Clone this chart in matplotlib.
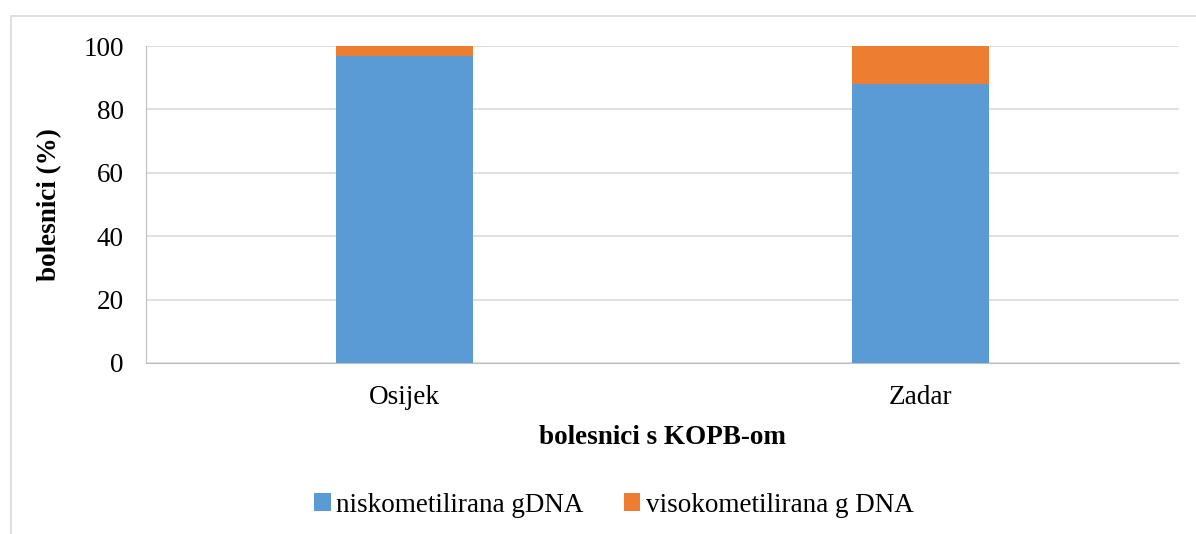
import matplotlib.pyplot as plt
from matplotlib.patches import Rectangle

cities = ['Osijek', 'Zadar']
niskometilirana = [97, 88]
visokometilirana = [3, 12]
series_names = ['niskometilirana gDNA', 'visokometilirana g DNA']

def main():
  plt.rcParams['font.family'] = ['Liberation Serif', 'DejaVu Serif']
  W, H = 1196, 534
  fs = 19.5
  fig = plt.figure(figsize=(W / 100, H / 100), dpi=100)

  # outer chart frame, cut off at right and bottom
  fig.patches.append(Rectangle((11 / W, -0.1), 1.2, (H - 16) / H + 0.1,
                               transform=fig.transFigure, fill=False,
                               edgecolor='#d9d9d9', linewidth=1.2))

  ax = fig.add_axes([146 / W, 1 - 363 / H, (1179 - 146) / W, (363 - 46) / H])
  x = range(len(cities))
  ax.bar(x, niskometilirana, width=0.265, color='#5b9bd5', label=series_names[0], zorder=3)
  ax.bar(x, visokometilirana, width=0.265, bottom=niskometilirana,
         color='#ed7d31', label=series_names[1], zorder=3)

  ax.set_xlim(-0.5, 1.5)
  ax.set_ylim(0, 100)
  ax.set_yticks([0, 20, 40, 60, 80, 100])
  ax.set_xticks(list(x))
  ax.set_xticklabels(cities)
  ax.tick_params(axis='both', labelsize=fs, length=0, colors='black')
  ax.tick_params(axis='y', pad=16)
  ax.tick_params(axis='x', pad=16)
  ax.grid(axis='y', color='#d9d9d9', linewidth=1.2, zorder=0)
  for s in ['top', 'right']:
    ax.spines[s].set_visible(False)
  for s in ['left', 'bottom']:
    ax.spines[s].set_color('#bfbfbf')

  ax.set_ylabel('bolesnici (%)', fontsize=fs, fontweight='bold', labelpad=15)
  ax.set_xlabel('bolesnici s KOPB-om', fontsize=fs, fontweight='bold', labelpad=11)

  fig.legend(loc='center', bbox_to_anchor=(614 / W, 1 - 505 / H), ncol=2,
             frameon=False, fontsize=fs, handlelength=0.6, handleheight=0.6,
             handletextpad=0.2, columnspacing=1.5)

  fig.savefig('out.png', dpi=100)

if __name__ == "__main__":
  main()
